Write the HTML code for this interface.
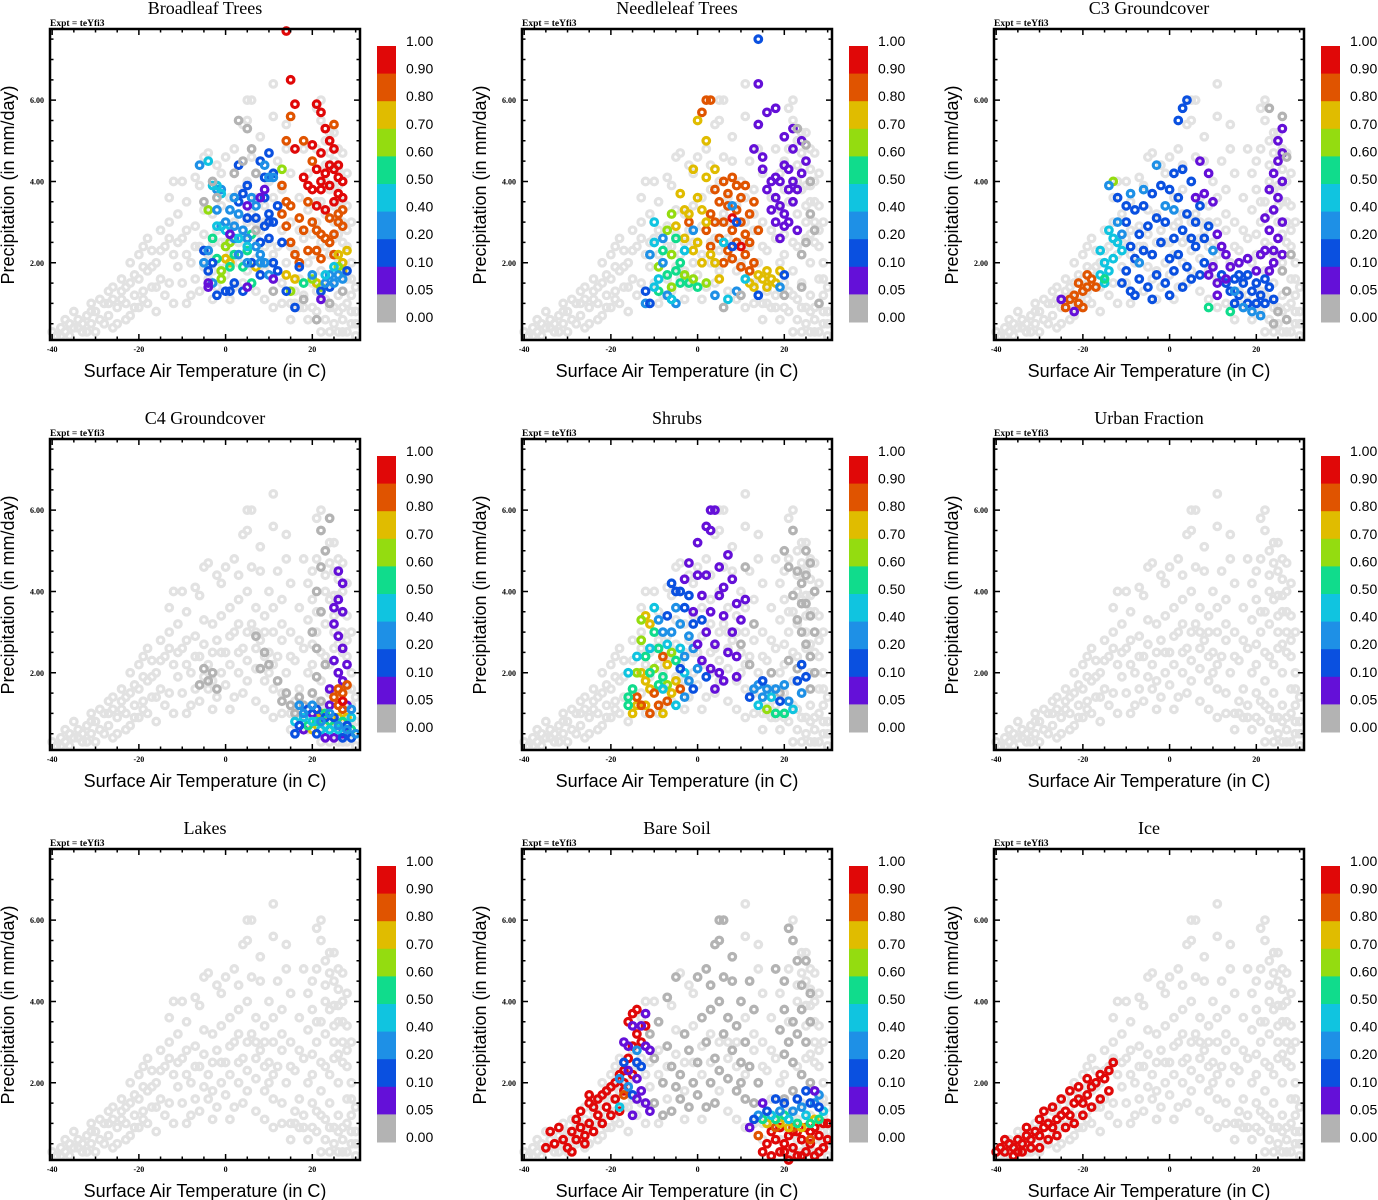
<!DOCTYPE html>
<html><head><meta charset="utf-8"><style>
html,body{margin:0;padding:0;background:#fff;}
svg{display:block;}
.t{font-family:"Liberation Serif",serif;}
.s{font-family:"Liberation Sans",sans-serif;}
</style></head><body>
<svg id="fig" width="1378" height="1200" viewBox="0 0 1378 1200" xmlns="http://www.w3.org/2000/svg"></svg>
<script>
const panelTitles=["Broadleaf Trees","Needleleaf Trees","C3 Groundcover","C4 Groundcover","Shrubs","Urban Fraction","Lakes","Bare Soil","Ice"];
const xTicks=[-40,-20,0,20];
const yTicks=[2,4,6];
const cbLabels=["1.00","0.90","0.80","0.70","0.60","0.50","0.40","0.20","0.10","0.05","0.00"];
const cbColors=["#e00808","#e05400","#e0bc00","#94dc10","#10dc8c","#10c4e0","#1e90e6","#0a50e0","#6410d8","#b3b3b3"];
const bgPts=[[-40,0.3],[-39,0.2],[-38,0.4],[-37,0.3],[-36,0.5],[-35,0.4],[-34,0.6],[-33,0.5],[-32,0.7],[-31,0.5],[-30,0.8],[-29,0.6],[-28,1.0],[-27,0.7],[-26,1.1],[-25,0.9],[-24,1.3],[-23,1.0],[-22,1.5],[-21,1.2],[-20,1.6],[-19,1.3],[-18,1.8],[-17,1.4],[-16,2.0],[-15,1.6],[-36,0.2],[-33,0.3],[-30,0.3],[-28,0.5],[-25,0.5],[-22,0.7],[-20,0.9],[-18,1.0],[-16,0.8],[-14,1.2],[-12,1.0],[-35,0.8],[-31,1.0],[-27,1.3],[-24,1.6],[-22,2.0],[-20,2.2],[-19,2.4],[-18,2.6],[-17,2.3],[-15,2.8],[-14,2.4],[-13,3.0],[-12,2.2],[-11,3.2],[-10,2.6],[-9,3.5],[-13,3.6],[-12,4.0],[-10,4.0],[-7,4.1],[-5,4.6],[-4,4.7],[-6,3.9],[-2,4.4],[-1,4.2],[-10,1.5],[-8,1.2],[-6,1.3],[-4,1.6],[-2,1.4],[0,1.7],[2,1.4],[4,1.5],[-8,2.0],[-6,2.4],[-4,2.2],[-2,2.8],[0,2.5],[2,3.0],[4,2.6],[6,3.2],[8,2.8],[10,2.5],[-7,2.9],[-3,3.2],[1,3.6],[3,3.8],[5,4.0],[7,3.6],[9,3.4],[11,3.0],[12,2.4],[-5,1.9],[-1,2.0],[3,2.0],[5,2.3],[7,2.1],[9,1.8],[11,1.6],[13,1.5],[0,4.6],[2,4.8],[4,5.4],[5,5.5],[5,6.0],[6,6.0],[8,5.1],[11,6.4],[11,5.6],[14,5.4],[12,4.5],[14,4.8],[10,4.0],[13,3.8],[15,4.2],[8,4.5],[3,4.4],[6,4.6],[10,2.0],[14,2.0],[13,1.0],[15,1.0],[11,0.9],[18,4.8],[20,4.5],[21,5.8],[22,5.5],[23,5.0],[24,4.7],[25,4.5],[26,4.3],[20,3.8],[22,3.5],[24,3.8],[26,3.5],[27,4.0],[27,3.0],[25,3.0],[23,3.2],[21,3.0],[19,3.3],[20,2.7],[22,2.5],[24,2.2],[26,2.0],[28,2.4],[28,1.6],[26,1.2],[24,1.5],[22,1.8],[20,1.5],[18,1.2],[17,1.6],[16,2.3],[19,2.0],[21,0.8],[23,0.6],[25,0.5],[27,0.3],[29,0.5],[30,0.8],[29,1.2],[27,0.9],[25,0.9],[23,1.1],[21,1.3],[19,0.6],[17,0.9],[15,0.6],[28,0.3],[30,0.2],[26,2.7],[28,3.4],[27,4.7],[25,5.2],[20,2.2],[18,2.6],[15,3.0],[16,1.3],[-9,1.0],[-3,1.1],[1,1.1],[7,1.3],[9,1.1],[-38,0.2],[-32,0.3],[-26,0.4],[-23,0.6],[25,3.9],[27,2.5],[23,4.0],[29,2.0],[29,3.0],[-37,0.6],[-34,0.4],[-31,0.8],[-29,1.1],[-27,1.0],[-26,1.4],[-24,1.1],[-23,1.4],[-21,1.7],[-21,0.9],[-19,1.9],[-19,1.1],[-17,1.9],[-16,1.4],[-15,2.3],[-13,1.5],[-13,2.6],[-11,1.9],[-11,2.5],[-9,2.2],[-9,2.8],[-7,1.6],[-7,2.4],[-5,2.7],[-5,3.3],[-3,2.5],[-3,1.8],[-1,2.5],[-1,3.4],[1,2.2],[1,2.9],[3,2.5],[3,3.2],[5,3.0],[5,1.8],[7,2.6],[7,3.0],[9,2.4],[9,3.0],[11,2.2],[11,3.6],[13,2.8],[13,3.2],[15,2.4],[17,2.8],[17,3.6],[19,4.2],[21,3.5],[21,4.8],[23,2.4],[23,4.4],[25,2.6],[25,3.4],[26,3.9],[27,3.5],[28,2.8],[29,1.6],[28,1.0],[26,0.8],[24,0.9],[22,1.2],[20,0.9],[18,0.9],[16,1.0],[27,0.6],[29,0.8],[22,0.3],[24,0.3],[26,0.3],[30,0.5],[30,1.4],[28,4.2],[26,4.8],[24,5.2],[22,6.0]];
const broadleafPts=[[14,7.7,.95],[15,6.5,.95],[16,5.9,.95],[21,5.9,.95],[22,5.7,.95],[23,5.3,.95],[25,5.4,.85],[20,4.9,.95],[22,4.7,.95],[24,5.0,.95],[25,4.8,.95],[26,4.4,.95],[27,4.0,.95],[21,4.3,.95],[23,4.2,.95],[25,4.3,.95],[18,4.1,.95],[19,3.9,.95],[20,3.8,.95],[22,3.8,.95],[24,3.9,.95],[26,3.7,.95],[27,3.6,.95],[21,3.4,.95],[23,3.3,.95],[25,3.5,.95],[16,4.8,.95],[22,4.0,.95],[26,4.1,.95],[24,4.4,.95],[15,5.6,.85],[14,5.0,.85],[18,5.0,.85],[20,4.5,.85],[13,3.9,.85],[14,3.5,.85],[15,3.4,.85],[13,3.2,.85],[14,2.9,.85],[15,2.5,.85],[16,2.2,.85],[17,2.0,.85],[19,2.3,.85],[21,2.3,.85],[22,2.1,.85],[24,2.5,.85],[25,2.7,.85],[27,2.9,.85],[20,3.0,.85],[22,2.7,.85],[24,3.1,.85],[26,3.2,.85],[27,3.3,.85],[19,3.5,.85],[21,2.8,.85],[23,2.6,.85],[25,2.2,.85],[26,3.0,.85],[18,2.8,.85],[17,3.1,.85],[26,2.2,.75],[27,2.0,.75],[28,2.3,.75],[27,1.8,.75],[21,1.5,.75],[14,1.7,.75],[16,1.6,.75],[1,2.0,.75],[0,2.1,.75],[7,1.9,.75],[-3,2.6,.55],[-2,2.1,.55],[-1,1.8,.65],[0,2.4,.65],[1,2.5,.65],[2,2.2,.55],[5,2.3,.55],[6,2.7,.55],[13,4.3,.65],[18,1.5,.55],[20,1.6,.65],[22,1.4,.65],[-4,3.3,.65],[1,1.9,.55],[4,1.9,.55],[6,1.5,.55],[15,1.3,.65],[26,1.9,.65],[-1,1.6,.65],[-5,2.3,.15],[-4,1.8,.15],[-3,2.0,.15],[-2,1.2,.15],[0,1.3,.15],[1,1.3,.15],[2,1.5,.15],[3,4.4,.15],[4,3.7,.15],[5,3.1,.15],[5,3.9,.15],[8,4.5,.15],[10,4.7,.15],[9,3.6,.15],[10,3.2,.15],[11,3.0,.15],[12,3.4,.15],[9,2.9,.15],[8,2.5,.15],[10,2.6,.15],[11,2.0,.15],[12,1.8,.15],[14,1.3,.15],[16,0.9,.15],[17,1.9,.15],[22,1.3,.15],[24,1.4,.15],[28,1.8,.15],[3,3.5,.15],[7,3.1,.15],[10,3.0,.15],[6,2.0,.15],[8,1.7,.15],[13,2.5,.15],[4,1.3,.15],[9,4.1,.15],[11,4.2,.15],[-6,4.4,.3],[-4,4.5,.45],[-2,3.8,.3],[-1,3.8,.3],[-2,3.3,.3],[0,3.0,.3],[1,3.3,.3],[2,3.6,.3],[3,3.2,.3],[4,2.8,.3],[6,3.6,.3],[7,3.4,.3],[9,4.4,.3],[10,4.1,.3],[11,4.1,.3],[-5,2.0,.3],[-4,2.3,.3],[-3,1.5,.3],[2,2.6,.3],[3,2.2,.3],[5,2.0,.3],[7,2.4,.3],[8,2.2,.3],[9,2.0,.3],[10,1.7,.3],[20,1.7,.3],[23,1.5,.3],[25,1.5,.3],[26,1.7,.3],[27,1.6,.3],[24,1.7,.3],[-1,2.9,.3],[2,2.9,.3],[5,2.6,.3],[8,2.0,.3],[-3,3.9,.45],[-2,3.9,.45],[-1,3.7,.45],[-2,2.9,.45],[0,2.8,.45],[3,2.6,.45],[5,2.4,.45],[23,1.7,.45],[25,1.9,.45],[-4,1.5,.07],[-4,1.4,.07],[5,1.4,.07],[9,3.8,.07],[8,3.6,.07],[1,2.7,.07],[11,1.6,.07],[22,1.1,.07],[5,3.4,.07],[3,5.5,.02],[5,5.3,.02],[4,4.5,.02],[2,4.2,.02],[7,4.2,.02],[-3,4.0,.02],[-2,3.6,.02],[7,2.8,.02],[11,1.3,.02],[18,1.1,.02],[21,0.6,.02],[24,1.0,.02],[27,1.3,.02],[-5,3.5,.02],[6,4.8,.02]];
const needleleafPts=[[2,6.0,.85],[3,6.0,.85],[1,5.7,.85],[6,4.0,.85],[8,4.1,.85],[4,3.8,.85],[5,3.5,.85],[7,3.4,.85],[9,3.3,.85],[10,3.0,.85],[11,2.7,.85],[12,3.2,.85],[3,3.2,.85],[6,3.0,.85],[8,2.8,.85],[9,2.5,.85],[11,2.2,.85],[12,2.5,.85],[13,2.0,.85],[5,2.6,.85],[7,2.3,.85],[10,3.6,.85],[11,3.9,.85],[13,3.5,.85],[4,3.0,.85],[2,2.8,.85],[6,2.0,.85],[8,2.1,.85],[10,1.9,.85],[14,2.8,.85],[9,3.9,.85],[7,3.7,.85],[12,1.8,.85],[3,2.4,.85],[-2,3.0,.85],[14,7.5,.15],[8,3.1,.95],[10,2.4,.95],[0,5.5,.75],[2,5.0,.75],[-1,4.3,.75],[0,3.6,.75],[1,3.3,.75],[2,3.0,.75],[-2,3.2,.75],[3,2.2,.75],[4,2.0,.75],[5,1.6,.75],[0,2.5,.75],[1,2.0,.75],[-3,2.6,.75],[-1,2.3,.75],[2,4.1,.75],[4,4.3,.75],[13,1.4,.75],[14,1.7,.75],[15,1.6,.75],[16,1.4,.75],[17,1.6,.75],[18,1.5,.75],[19,1.8,.75],[12,1.5,.75],[16,1.8,.75],[-5,2.9,.75],[-4,3.7,.75],[-3,3.3,.75],[-7,2.8,.65],[-5,2.6,.55],[-6,2.2,.65],[-4,2.0,.55],[-3,1.7,.65],[-2,1.5,.55],[-8,2.3,.55],[-9,1.9,.65],[-7,1.7,.55],[-6,1.4,.65],[-5,1.8,.55],[-1,1.6,.65],[0,1.4,.55],[2,1.5,.65],[-9,1.3,.55],[-6,3.2,.65],[-4,1.5,.55],[-10,3.0,.45],[-8,2.6,.3],[-10,2.5,.45],[-11,2.2,.3],[-9,1.6,.45],[-7,1.2,.3],[-5,1.0,.3],[-10,1.4,.45],[-12,1.0,.3],[-3,2.3,.45],[-1,2.8,.3],[4,1.2,.3],[7,1.1,.45],[9,1.3,.3],[11,1.6,.45],[8,3.4,.3],[6,2.5,.45],[-8,2.0,.3],[-6,1.1,.45],[19,1.4,.3],[-12,1.3,.15],[-11,1.0,.15],[8,2.4,.15],[9,3.0,.15],[14,1.2,.15],[20,1.7,.15],[15,4.3,.07],[17,4.0,.07],[18,3.6,.07],[19,3.4,.07],[20,3.2,.07],[21,3.0,.07],[22,3.5,.07],[23,3.8,.07],[24,4.2,.07],[25,4.5,.07],[24,5.0,.07],[22,4.8,.07],[20,4.4,.07],[19,4.0,.07],[21,3.8,.07],[18,3.0,.07],[17,3.3,.07],[16,3.8,.07],[23,2.8,.07],[19,2.6,.07],[20,2.9,.07],[21,4.3,.07],[22,4.0,.07],[18,4.1,.07],[14,5.4,.07],[13,4.8,.07],[15,4.6,.07],[16,5.7,.07],[18,5.8,.07],[20,5.1,.07],[14,6.4,.07],[22,5.3,.07],[23,5.3,.02],[25,4.9,.02],[26,4.0,.02],[26,3.2,.02],[25,2.5,.02],[24,2.2,.02],[27,2.8,.02],[10,1.2,.02],[6,0.9,.02],[20,1.2,.02],[24,1.4,.02],[28,1.0,.02]];
const c3Pts=[[-21,1.5,.85],[-20,1.3,.85],[-19,1.4,.85],[-22,1.2,.85],[-21,1.0,.85],[-20,0.9,.85],[-18,1.6,.85],[-19,1.7,.85],[-17,1.4,.85],[-23,1.1,.85],[-24,0.9,.85],[-25,1.1,.07],[-22,0.8,.07],[-15,2.0,.45],[-14,1.8,.45],[-13,2.1,.45],[-15,1.5,.45],[-16,1.7,.45],[-12,2.5,.45],[-13,2.6,.45],[-16,2.3,.45],[-14,2.8,.45],[-11,2.3,.45],[-13,4.0,.65],[-15,1.6,.55],[9,0.9,.55],[14,0.8,.55],[-10,3.0,.15],[-8,3.3,.15],[-6,3.4,.15],[-4,3.7,.15],[-2,3.9,.15],[0,3.8,.15],[2,3.6,.15],[4,3.2,.15],[6,3.0,.15],[-9,2.4,.15],[-7,2.7,.15],[-5,2.9,.15],[-3,3.1,.15],[-1,3.0,.15],[1,2.6,.15],[3,2.8,.15],[5,2.6,.15],[-10,1.8,.15],[-8,2.1,.15],[-6,2.3,.15],[-4,2.2,.15],[-2,2.5,.15],[0,2.1,.15],[2,2.2,.15],[4,1.9,.15],[6,2.4,.15],[8,2.6,.15],[-11,1.5,.15],[-9,1.3,.15],[-7,1.6,.15],[-5,1.4,.15],[-3,1.7,.15],[-1,1.5,.15],[1,1.8,.15],[3,1.4,.15],[5,1.6,.15],[7,1.7,.15],[-8,1.2,.15],[-4,1.1,.15],[0,1.2,.15],[2,5.5,.15],[3,5.8,.15],[4,6.0,.15],[1,4.2,.15],[3,4.3,.15],[5,4.0,.15],[-12,3.6,.15],[-14,3.9,.3],[-10,3.4,.15],[7,3.4,.15],[9,2.9,.15],[8,2.0,.15],[12,1.7,.15],[13,1.5,.15],[14,1.3,.15],[15,1.6,.15],[16,1.2,.15],[17,1.5,.15],[18,1.7,.15],[19,1.3,.15],[20,1.5,.15],[21,1.2,.15],[22,1.6,.15],[23,1.4,.15],[24,1.1,.15],[18,1.0,.15],[20,1.0,.15],[16,1.7,.15],[15,1.0,.15],[22,1.0,.15],[-12,3.0,.3],[-11,2.7,.3],[-9,3.7,.3],[-6,3.8,.3],[-3,4.4,.3],[-1,3.4,.3],[1,3.3,.3],[17,0.9,.3],[19,0.8,.3],[21,0.7,.3],[15,1.3,.3],[-7,2.0,.3],[10,2.3,.3],[8,3.7,.07],[10,3.5,.07],[9,4.2,.07],[6,3.6,.07],[11,2.7,.07],[12,2.4,.07],[10,1.9,.07],[11,1.5,.07],[9,1.7,.07],[13,2.2,.07],[14,1.9,.07],[16,2.0,.07],[18,2.1,.07],[23,1.8,.07],[24,2.3,.07],[25,2.6,.07],[26,3.0,.07],[24,3.3,.07],[25,3.6,.07],[26,4.0,.07],[24,4.2,.07],[25,4.5,.07],[26,4.7,.07],[23,3.8,.07],[22,3.1,.07],[23,2.8,.07],[25,5.0,.07],[26,5.3,.07],[24,2.0,.07],[22,2.3,.07],[26,2.2,.07],[20,1.8,.07],[21,2.2,.07],[7,4.5,.07],[13,1.6,.07],[11,1.2,.07],[26,1.8,.02],[27,1.3,.02],[25,0.8,.02],[27,0.6,.02],[24,0.5,.02],[26,5.6,.02],[23,5.8,.02],[28,2.2,.02],[27,4.6,.02]];
const c4Pts=[[-5,2.1,.02],[-4,1.8,.02],[-3,2.0,.02],[-2,1.6,.02],[-6,1.7,.02],[9,2.5,.02],[10,2.2,.02],[12,1.8,.02],[14,1.5,.02],[15,1.2,.02],[13,1.3,.02],[16,1.0,.02],[17,1.4,.02],[18,1.2,.02],[20,1.5,.02],[22,1.3,.02],[21,4.0,.02],[22,3.5,.02],[20,3.0,.02],[21,2.6,.02],[22,5.5,.02],[23,5.0,.02],[22,4.6,.02],[23,2.2,.02],[21,1.9,.02],[24,5.8,.02],[7,2.9,.02],[8,2.1,.02],[26,4.5,.07],[27,4.2,.07],[26,3.8,.07],[27,3.5,.07],[25,3.2,.07],[26,2.9,.07],[27,2.6,.07],[25,2.3,.07],[26,2.0,.07],[27,1.8,.07],[28,2.2,.07],[25,3.6,.07],[24,1.6,.07],[24,1.2,.07],[20,1.0,.07],[22,0.9,.07],[18,0.6,.07],[28,1.2,.07],[27,0.5,.07],[25,0.4,.07],[23,0.4,.07],[25,1.4,.85],[26,1.6,.85],[27,1.5,.85],[28,1.7,.85],[26,1.2,.85],[27,1.1,.85],[27,1.3,.95],[22,1.0,.75],[24,0.8,.75],[26,0.9,.75],[28,0.9,.75],[20,0.6,.75],[21,0.8,.55],[23,0.7,.55],[25,0.7,.55],[27,0.8,.55],[29,0.6,.55],[23,1.0,.55],[19,0.7,.55],[18,0.9,.45],[20,0.8,.45],[22,0.6,.45],[24,0.6,.45],[26,0.6,.45],[29,0.9,.45],[16,0.8,.45],[17,0.7,.15],[19,1.1,.15],[21,0.5,.15],[23,0.9,.15],[25,0.9,.15],[27,0.4,.15],[29,0.4,.15],[16,0.5,.15],[21,1.1,.15],[28,0.7,.15],[18,1.0,.3],[20,1.2,.3],[22,0.8,.3],[24,1.0,.3],[26,0.7,.3],[28,0.6,.3],[30,0.5,.3],[17,1.2,.3],[29,1.1,.3]];
const shrubsPts=[[20,5.0,.02],[22,5.5,.02],[23,4.5,.02],[24,4.2,.02],[25,3.7,.02],[26,3.4,.02],[24,3.0,.02],[25,2.7,.02],[23,3.3,.02],[26,4.7,.02],[27,4.0,.02],[25,5.0,.02],[22,3.9,.02],[26,2.4,.02],[27,3.0,.02],[21,2.3,.02],[23,2.1,.02],[26,1.6,.02],[21,4.6,.02],[24,3.7,.02],[27,2.0,.02],[25,4.4,.02],[13,3.2,.02],[11,4.6,.02],[10,2.7,.02],[19,1.5,.02],[17,2.0,.02],[12,2.2,.02],[-13,2.0,.75],[-12,1.8,.75],[-11,1.6,.75],[-14,1.2,.75],[-15,1.0,.75],[-12,1.2,.75],[-8,1.0,.75],[-5,1.8,.75],[-6,1.5,.75],[-7,2.2,.75],[-11,3.2,.75],[-12,3.4,.75],[-14,1.4,.85],[-13,1.2,.85],[-10,1.5,.85],[-9,1.2,.85],[-11,1.0,.85],[-7,1.3,.85],[-4,1.6,.85],[-8,2.4,.85],[-15,1.6,.55],[-16,1.4,.55],[-14,2.0,.65],[-12,2.4,.55],[-10,2.1,.65],[-9,2.6,.55],[-13,2.8,.65],[-8,1.9,.55],[-6,2.5,.65],[-11,2.0,.55],[-13,3.3,.65],[-10,3.0,.55],[-16,1.2,.55],[18,1.0,.55],[16,1.1,.65],[20,1.0,.55],[-5,2.3,.55],[-7,1.7,.65],[-9,1.7,.55],[-16,2.0,.45],[-14,2.4,.45],[-11,2.6,.45],[-8,1.6,.45],[-5,1.2,.45],[-3,2.0,.45],[-4,2.6,.45],[-7,2.7,.45],[-10,3.6,.45],[14,1.2,.45],[17,1.4,.45],[22,1.1,.45],[-9,3.3,.3],[-6,3.0,.3],[-3,2.4,.3],[-2,2.9,.3],[-1,2.6,.3],[-5,3.6,.3],[-4,3.2,.3],[-2,1.8,.3],[0,2.1,.3],[-3,1.4,.3],[13,1.6,.3],[15,1.4,.3],[18,1.6,.3],[21,1.3,.3],[24,1.5,.3],[14,1.7,.3],[20,1.7,.3],[16,1.6,.3],[-8,3.0,.3],[-7,3.4,.15],[-5,4.0,.15],[-3,3.6,.15],[-1,3.2,.15],[1,3.3,.15],[-2,3.9,.15],[-4,4.0,.15],[-6,4.2,.15],[12,1.4,.15],[15,1.8,.15],[19,1.3,.15],[23,1.8,.15],[24,2.2,.15],[25,1.9,.15],[-1,1.6,.15],[2,1.9,.15],[-4,2.1,.15],[3,6.0,.07],[4,6.0,.07],[2,5.6,.07],[3,5.5,.07],[-2,4.7,.07],[0,4.4,.07],[1,3.9,.07],[3,3.5,.07],[5,3.9,.07],[6,3.4,.07],[8,3.0,.07],[7,2.5,.07],[5,2.0,.07],[3,2.1,.07],[4,2.7,.07],[6,1.8,.07],[9,2.4,.07],[10,3.3,.07],[2,3.0,.07],[0,2.7,.07],[-3,4.3,.07],[1,2.3,.07],[8,4.3,.07],[11,3.8,.07],[7,4.9,.07],[5,4.6,.07],[9,1.9,.07],[4,1.6,.07],[0,5.2,.07],[-1,3.5,.07],[6,4.1,.07],[2,4.4,.07],[9,3.7,.07]];
const urbanPts=[];
const lakesPts=[];
const bareSoilPts=[[-10,1.5,.02],[-8,1.2,.02],[-6,1.3,.02],[-4,1.6,.02],[-2,1.4,.02],[0,1.7,.02],[2,1.4,.02],[4,1.5,.02],[-8,2.0,.02],[-6,2.4,.02],[-4,2.2,.02],[-2,2.8,.02],[0,2.5,.02],[2,3.0,.02],[4,2.6,.02],[6,3.2,.02],[8,2.8,.02],[10,2.5,.02],[-7,2.9,.02],[-3,3.2,.02],[1,3.6,.02],[3,3.8,.02],[5,4.0,.02],[7,3.6,.02],[9,3.4,.02],[11,3.0,.02],[12,2.4,.02],[-5,1.9,.02],[-1,2.0,.02],[3,2.0,.02],[5,2.3,.02],[7,2.1,.02],[9,1.8,.02],[11,1.6,.02],[13,1.5,.02],[0,4.6,.02],[2,4.8,.02],[4,5.4,.02],[5,5.5,.02],[5,6.0,.02],[6,6.0,.02],[8,5.1,.02],[12,4.5,.02],[10,4.0,.02],[13,3.8,.02],[8,4.5,.02],[3,4.4,.02],[6,4.6,.02],[10,2.0,.02],[14,2.0,.02],[-9,3.5,.02],[-7,4.1,.02],[-5,4.6,.02],[-10,2.6,.02],[-11,3.2,.02],[18,4.8,.02],[20,4.5,.02],[21,5.8,.02],[22,5.5,.02],[23,5.0,.02],[20,3.8,.02],[22,3.5,.02],[24,3.8,.02],[26,3.5,.02],[25,3.0,.02],[23,3.2,.02],[21,3.0,.02],[19,3.3,.02],[20,2.7,.02],[22,2.5,.02],[24,2.2,.02],[26,2.0,.02],[22,1.8,.02],[20,1.6,.02],[24,4.4,.02],[26,4.2,.02],[25,5.0,.02],[-35,0.4,.95],[-33,0.5,.95],[-31,0.6,.95],[-29,0.8,.95],[-27,0.9,.95],[-25,1.0,.95],[-23,1.2,.95],[-21,1.4,.95],[-19,1.6,.95],[-17,1.8,.95],[-30,0.4,.95],[-28,0.6,.95],[-26,0.7,.95],[-24,0.8,.95],[-22,1.0,.95],[-20,1.2,.95],[-18,1.3,.95],[-25,1.5,.95],[-23,1.6,.95],[-21,1.8,.95],[-19,2.0,.95],[-17,2.3,.95],[-16,2.6,.95],[-15,2.9,.95],[-14,3.2,.95],[-12,3.4,.95],[-13,3.0,.95],[-17,2.0,.95],[-20,1.9,.95],[-22,1.7,.95],[-15,3.7,.95],[-14,3.8,.95],[-16,3.5,.95],[-24,1.4,.95],[-27,1.3,.95],[-25,1.7,.95],[-28,1.1,.95],[-32,0.9,.95],[-34,0.8,.95],[-29,0.3,.95],[-26,0.5,.95],[-15,2.2,.95],[-18,2.2,.95],[15,0.3,.95],[17,0.2,.95],[19,0.3,.95],[21,0.1,.95],[23,0.2,.95],[25,0.3,.95],[27,0.2,.95],[29,0.4,.95],[16,0.5,.95],[18,0.6,.95],[20,0.5,.95],[22,0.4,.95],[24,0.6,.95],[26,0.5,.95],[28,0.7,.95],[30,0.6,.95],[17,0.8,.95],[19,0.9,.95],[21,0.7,.95],[23,0.8,.95],[25,0.9,.95],[27,0.9,.95],[29,1.0,.95],[20,0.3,.95],[24,0.2,.95],[28,0.3,.95],[22,0.8,.95],[26,0.8,.95],[30,1.0,.95],[-17,1.7,.85],[14,0.7,.85],[18,0.9,.85],[22,0.9,.85],[26,0.6,.85],[16,1.0,.75],[19,1.0,.75],[21,0.9,.75],[24,0.9,.75],[27,1.1,.75],[15,1.1,.55],[18,1.1,.55],[23,1.0,.55],[26,1.0,.55],[28,1.1,.55],[20,1.2,.55],[17,1.2,.45],[21,1.1,.45],[25,1.2,.45],[29,1.3,.45],[-18,1.4,.45],[-18,2.1,.3],[-16,1.9,.3],[14,1.2,.3],[19,1.3,.3],[22,1.3,.3],[24,1.4,.3],[27,1.5,.3],[28,1.7,.3],[-14,2.8,.3],[-17,2.5,.15],[-14,2.5,.15],[-13,2.4,.15],[-15,1.7,.15],[16,1.3,.15],[20,1.5,.15],[23,1.6,.15],[25,1.8,.15],[28,1.4,.15],[26,1.5,.15],[13,1.1,.15],[18,1.6,.15],[-17,3.0,.07],[-15,3.4,.07],[-13,3.4,.07],[-12,3.7,.07],[-16,2.9,.07],[-14,2.1,.07],[-12,2.9,.07],[-11,2.8,.07],[-13,1.8,.07],[-15,1.2,.07],[-12,1.5,.07],[-11,1.3,.07],[-16,2.3,.07],[-14,1.6,.07],[12,0.9,.07],[27,1.8,.07],[15,1.5,.07]];
const icePts=[[-40,0.3,.95],[-39,0.4,.95],[-38,0.3,.95],[-37,0.5,.95],[-36,0.4,.95],[-35,0.6,.95],[-34,0.5,.95],[-33,0.7,.95],[-32,0.6,.95],[-31,0.8,.95],[-30,0.7,.95],[-29,0.9,.95],[-28,1.0,.95],[-27,0.9,.95],[-26,1.1,.95],[-25,1.2,.95],[-24,1.3,.95],[-23,1.2,.95],[-22,1.5,.95],[-21,1.6,.95],[-20,1.5,.95],[-19,1.7,.95],[-18,1.9,.95],[-17,2.0,.95],[-16,2.2,.95],[-15,2.1,.95],[-14,2.3,.95],[-13,2.5,.95],[-36,0.2,.95],[-34,0.3,.95],[-32,0.4,.95],[-30,0.4,.95],[-28,0.6,.95],[-26,0.7,.95],[-24,0.9,.95],[-22,1.0,.95],[-20,1.2,.95],[-18,1.4,.95],[-16,1.6,.95],[-14,1.8,.95],[-30,1.1,.95],[-27,1.4,.95],[-25,1.6,.95],[-23,1.8,.95],[-21,1.9,.95],[-19,2.1,.95],[-29,1.3,.95],[-33,0.9,.95],[-38,0.6,.95],[-35,0.3,.95]];
const panelPts=[broadleafPts,needleleafPts,c3Pts,c4Pts,shrubsPts,urbanPts,lakesPts,bareSoilPts,icePts];

const NS="http://www.w3.org/2000/svg";
const svg=document.getElementById('fig');
function mk(tag,attrs,parent){const e=document.createElementNS(NS,tag);for(const k in attrs)e.setAttribute(k,attrs[k]);parent.appendChild(e);return e;}
const X0=50,X1=360,Y0=29,Y1=340,TMIN=-40.5,TMAX=31,PMIN=0.1,PMAX=7.75;
function sx(t){return X0+(t-TMIN)*(X1-X0)/(TMAX-TMIN);}
function sy(p){return Y1-(p-PMIN)*(Y1-Y0)/(PMAX-PMIN);}
function colorOf(f){const b=[0.9,0.8,0.7,0.6,0.5,0.4,0.2,0.1,0.05];for(let i=0;i<b.length;i++){if(f>=b[i])return cbColors[i];}return cbColors[9];}
function slug(s){return s.toLowerCase().replace(/[^a-z0-9]+/g,'-');}

panelTitles.forEach((title,pi)=>{
  const dx=(pi%3)*472, dy=Math.floor(pi/3)*410;
  const g=mk('g',{transform:`translate(${dx},${dy})`},svg);
  
  
  const tt=mk('text',{x:205,y:14,'text-anchor':'middle','font-size':18,class:'t'},g);tt.textContent=title;
  
  
  const ex=mk('text',{x:50,y:26,'font-size':9.5,'font-weight':'bold',class:'t'},g);ex.textContent='Expt = teYfi3';
  
  
  const pg=mk('g',{fill:'none','stroke-width':3.2},g);
  
  
  bgPts.forEach(d=>{const c=mk('circle',{cx:sx(d[0]),cy:sy(d[1]),r:3.3,stroke:'#e2e2e2'},pg);
    
    });
  panelPts[pi].forEach(d=>{const c=mk('circle',{cx:sx(d[0]),cy:sy(d[1]),r:3.3,stroke:colorOf(d[2])},pg);
    
    });
  const fr=mk('rect',{x:X0,y:Y0,width:X1-X0,height:Y1-Y0,fill:'none',stroke:'#000','stroke-width':2.5},g);
  
  
  let tp='';
  for(let t=-40;t<=30;t+=5){const x=sx(t);const L=(t%20===0)?6:3.5;tp+=`M${x},${Y1}v${-L}M${x},${Y0}v${L}`;}
  for(let p=0.5;p<=7.5;p+=0.5){const y=sy(p);const L=(Math.abs(p%2)<1e-6)?6:3.5;tp+=`M${X0},${y}h${L}M${X1},${y}h${-L}`;}
  const tk=mk('path',{d:tp,stroke:'#000','stroke-width':1.5},g);
  
  
  xTicks.forEach(t=>{const e=mk('text',{x:sx(t),y:352,'text-anchor':'middle','font-size':8,'font-weight':'bold',class:'t'},g);e.textContent=String(t);
    
    });
  yTicks.forEach(p=>{const e=mk('text',{x:44,y:sy(p)+3,'text-anchor':'end','font-size':8,'font-weight':'bold',class:'t'},g);e.textContent=p.toFixed(2);
    
    });
  const xl=mk('text',{x:205,y:377,'text-anchor':'middle','font-size':18,class:'s'},g);xl.textContent='Surface Air Temperature (in C)';
  
  
  const yl=mk('text',{x:0,y:0,'text-anchor':'middle','font-size':18,class:'s',transform:'translate(14,185) rotate(-90)'},g);yl.textContent='Precipitation (in mm/day)';
  
  
  const cb=mk('g',{},g);
  
  
  const segH=27.6;
  cbColors.forEach((c,i)=>{const r=mk('rect',{x:377,y:46+i*segH,width:19,height:segH+0.5,fill:c},cb);
    
    });
  cbLabels.forEach((l,i)=>{const e=mk('text',{x:406,y:46+i*segH,'font-size':14,class:'s'},cb);e.textContent=l;
    
    });
});
</script>
</body></html>
